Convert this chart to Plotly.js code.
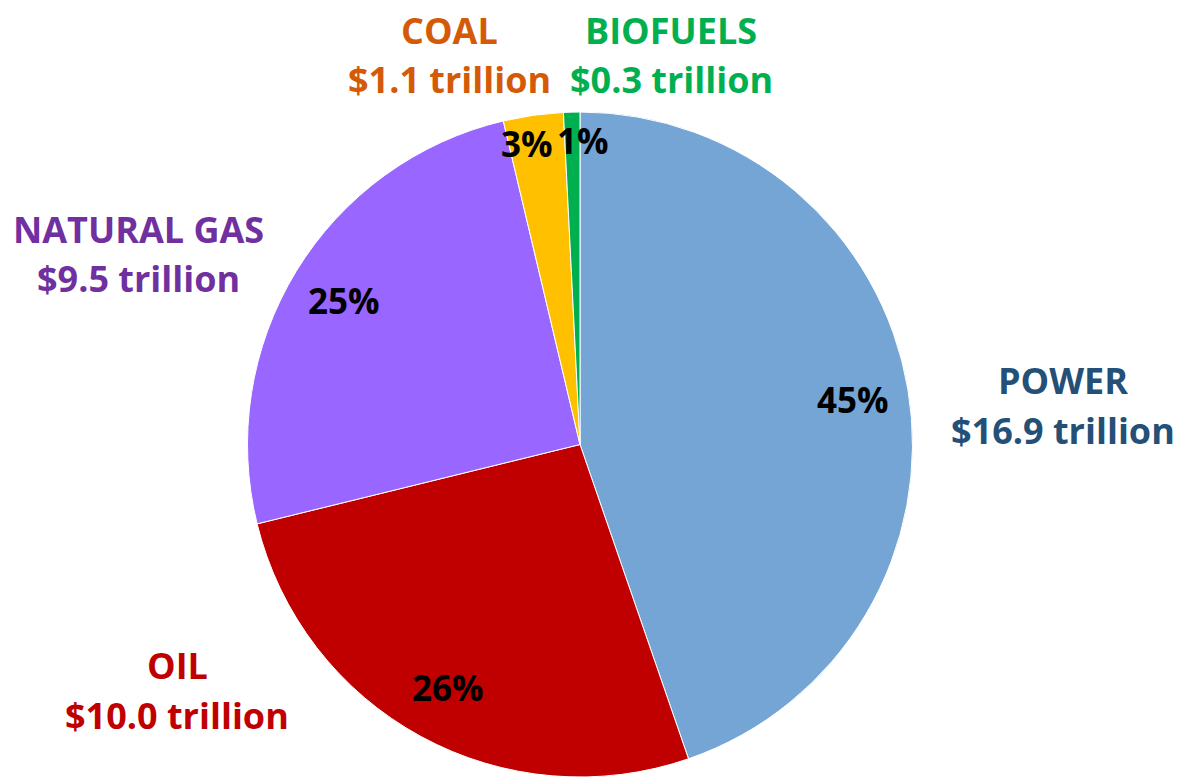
<!DOCTYPE html>
<html><head><meta charset="utf-8">
<script src="https://cdn.plot.ly/plotly-3.0.1.min.js"></script>
<style>html,body{margin:0;padding:0;background:#fff}#chart{width:1179px;height:777px}</style>
</head><body><div id="chart"></div>
<script>
const categories = ["POWER", "OIL", "NATURAL GAS", "COAL", "BIOFUELS"];
const valuesTrillion = [16.9, 10.0, 9.5, 1.1, 0.3];
const sliceColors = ["#75A5D4", "#C00000", "#9966FF", "#FFC000", "#00B050"];
const labelColors = ["#245078", "#C00000", "#7030A0", "#D45A08", "#00B050"];

const W = 1179, H = 777;
const cx = 580, cy = 445, R = 333;
const FONT = "'Open Sans', sans-serif";

const total = valuesTrillion.reduce((a, b) => a + b, 0);

const trace = {
  type: "pie",
  labels: categories,
  values: valuesTrillion,
  sort: false,
  direction: "clockwise",
  rotation: 0,
  marker: { colors: sliceColors, line: { color: "#FFFFFF", width: 1 } },
  textinfo: "none",
  hoverinfo: "label+value+percent",
  showlegend: false,
  domain: { x: [(cx - R) / W, (cx + R) / W], y: [Math.max(0, (H - cy - R) / H), (H - cy + R) / H] }
};

const annotations = [];

// percent labels, positioned along each slice's bisector (derived from the data)
let cum = 0;
const pctPos = valuesTrillion.map(v => {
  const frac = v / total;
  const mid = (cum + frac / 2) * 2 * Math.PI;
  cum += frac;
  const f = frac < 0.05 ? 0.915 : 0.83;
  return { x: cx + f * R * Math.sin(mid), y: cy - f * R * Math.cos(mid), frac: frac };
});
// push apart neighbouring small-slice labels that would overlap
const minGap = 56;
for (let i = 0; i < pctPos.length - 1; i++) {
  const a = pctPos[i], b = pctPos[i + 1];
  if (Math.abs(a.y - b.y) < 30 && Math.abs(a.x - b.x) < minGap) {
    const push = (minGap - Math.abs(a.x - b.x)) / 2;
    const s = b.x >= a.x ? 1 : -1;
    a.x -= s * push; b.x += s * push;
  }
}
pctPos.forEach(p => {
  annotations.push({
    xref: "paper", yref: "paper", x: p.x / W, y: 1 - p.y / H,
    text: Math.round(p.frac * 100) + "%", showarrow: false,
    xanchor: "center", yanchor: "middle",
    font: { family: FONT, size: 35, color: "#000000", weight: 700 }
  });
});

// category / value labels outside the pie
const outside = [
  { x: 1063, y: 380 },
  { x: 177, y: 665 },
  { x: 138, y: 229 },
  { x: 449, y: 30 },
  { x: 671, y: 30 }
];
categories.forEach((c, i) => {
  const p = outside[i];
  const font = { family: FONT, size: 36, color: labelColors[i], weight: 700 };
  annotations.push({ xref: "paper", yref: "paper", x: p.x / W, y: 1 - p.y / H, text: c, showarrow: false, font: font, xanchor: "center", yanchor: "middle" });
  annotations.push({ xref: "paper", yref: "paper", x: p.x / W, y: 1 - (p.y + 50) / H, text: "$" + valuesTrillion[i].toFixed(1) + " trillion", showarrow: false, font: font, xanchor: "center", yanchor: "middle" });
});

Plotly.newPlot("chart", [trace], {
  width: W, height: H,
  margin: { l: 0, r: 0, t: 0, b: 0 },
  paper_bgcolor: "#FFFFFF",
  annotations: annotations
}, { displayModeBar: false });
</script></body></html>
